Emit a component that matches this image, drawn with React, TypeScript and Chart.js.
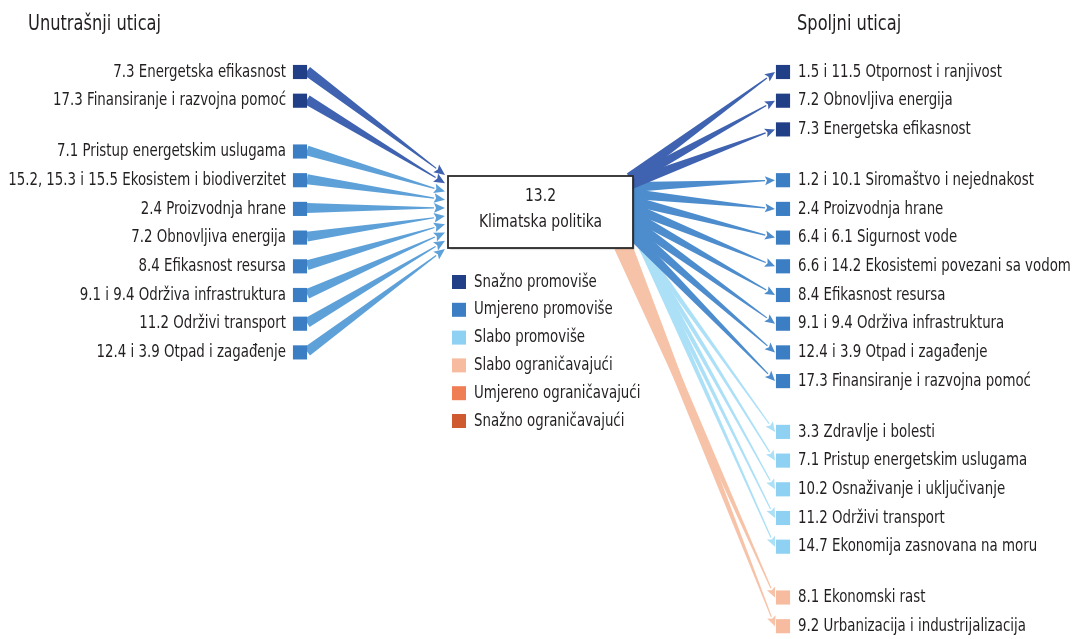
import React, { useEffect, useRef } from "react";
import { Chart, registerables } from "chart.js";

Chart.register(...registerables);

// ---------- DATA ----------
const titles = ["Unutrašnji uticaj", "Spoljni uticaj"];
const centerLines = ["13.2", "Klimatska politika"];

const leftLabels = [
  "7.3 Energetska efikasnost",
  "17.3 Finansiranje i razvojna pomoć",
  "7.1 Pristup energetskim uslugama",
  "15.2, 15.3 i 15.5 Ekosistem i biodiverzitet",
  "2.4 Proizvodnja hrane",
  "7.2 Obnovljiva energija",
  "8.4 Efikasnost resursa",
  "9.1 i 9.4 Održiva infrastruktura",
  "11.2 Održivi transport",
  "12.4 i 3.9 Otpad i zagađenje",
];
// 3 = snažno, 2 = umjereno, 1 = slabo promoviše; -1/-2/-3 = ograničavajući
const leftStrength = [3, 3, 2, 2, 2, 2, 2, 2, 2, 2];

const rightLabels = [
  "1.5 i 11.5 Otpornost i ranjivost",
  "7.2 Obnovljiva energija",
  "7.3 Energetska efikasnost",
  "1.2 i 10.1 Siromaštvo i nejednakost",
  "2.4 Proizvodnja hrane",
  "6.4 i 6.1 Sigurnost vode",
  "6.6 i 14.2 Ekosistemi povezani sa vodom",
  "8.4 Efikasnost resursa",
  "9.1 i 9.4 Održiva infrastruktura",
  "12.4 i 3.9 Otpad i zagađenje",
  "17.3 Finansiranje i razvojna pomoć",
  "3.3 Zdravlje i bolesti",
  "7.1 Pristup energetskim uslugama",
  "10.2 Osnaživanje i uključivanje",
  "11.2 Održivi transport",
  "14.7 Ekonomija zasnovana na moru",
  "8.1 Ekonomski rast",
  "9.2 Urbanizacija i industrijalizacija",
];
const rightStrength = [3, 3, 3, 2, 2, 2, 2, 2, 2, 2, 2, 1, 1, 1, 1, 1, -1, -1];

const legendLabels = [
  "Snažno promoviše",
  "Umjereno promoviše",
  "Slabo promoviše",
  "Slabo ograničavajući",
  "Umjereno ograničavajući",
  "Snažno ograničavajući",
];
const legendLevels = [3, 2, 1, -1, -2, -3];

// ---------- STYLE / LAYOUT ----------
const W = 1072;
const H = 639;
const NODE_COLORS: Record<number, string> = {
  3: "#213f87",
  2: "#3b7ec4",
  1: "#8fd1f2",
  "-1": "#f7bc9f",
  "-2": "#ef7e55",
  "-3": "#cf5a2f",
};
const LEFT_ARROW: Record<number, string> = {
  3: "#3f63b0",
  2: "#5ea1d9",
  1: "#a8dcf5",
  "-1": "#f7c3a8",
};
const RIGHT_ARROW: Record<number, string> = {
  3: "#3f63b0",
  2: "#4d8dcd",
  1: "#ace0f7",
  "-1": "#f7c3a8",
};
// source band on the box's right edge, per strength: [x offset from right edge, y start, y step, start width]
const RIGHT_SRC: Record<number, [number, number, number, number]> = {
  3: [-3, 178, 3, 11],
  2: [0, 187, 7, 10],
  1: [3, 238, 2.5, 6],
  "-1": [-13, 247, 1, 12],
};
const TEXT = "#231f20";
const FONT = "'Liberation Sans Narrow', 'DejaVu Sans Condensed', 'Arial Narrow', sans-serif";

const ROW0 = 72;
const ROW_H = 28.7;
const GROUP_GAP = 0.77;
const LEFT_X = 300;
const RIGHT_X = 783;
const BOX = { x0: 448, y0: 176, x1: 633, y1: 248 };

function rowValues(strength: number[]) {
  let g = 0;
  return strength.map((s, i) => {
    if (i > 0 && s !== strength[i - 1]) g++;
    return ROW0 + ROW_H * (i + GROUP_GAP * g);
  });
}
const leftY = rowValues(leftStrength);
const rightY = rowValues(rightStrength);

function drawText(ctx: CanvasRenderingContext2D, text: string, x: number, y: number, size: number, align: CanvasTextAlign, sx: number) {
  ctx.save();
  ctx.font = `${size}px ${FONT}`;
  ctx.fillStyle = TEXT;
  ctx.textAlign = align;
  ctx.textBaseline = "middle";
  ctx.translate(x, y);
  ctx.scale(sx, 1);
  ctx.fillText(text, 0, 0);
  ctx.restore();
}

function drawArrow(
  ctx: CanvasRenderingContext2D,
  sx: number, sy: number, tx: number, ty: number,
  w0: number, w1: number, headLen: number, headHalf: number, color: string
) {
  const dx = tx - sx, dy = ty - sy;
  const len = Math.hypot(dx, dy);
  const ux = dx / len, uy = dy / len;
  const nx = -uy, ny = ux;
  const bx = tx - ux * headLen, by = ty - uy * headLen;
  ctx.fillStyle = color;
  ctx.beginPath();
  ctx.moveTo(sx + nx * w0 / 2, sy + ny * w0 / 2);
  ctx.lineTo(bx + nx * w1 / 2, by + ny * w1 / 2);
  ctx.lineTo(bx - nx * w1 / 2, by - ny * w1 / 2);
  ctx.lineTo(sx - nx * w0 / 2, sy - ny * w0 / 2);
  ctx.closePath();
  ctx.fill();
  ctx.beginPath();
  ctx.moveTo(tx, ty);
  ctx.lineTo(bx + nx * headHalf, by + ny * headHalf);
  ctx.lineTo(bx + ux * 2, by + uy * 2);
  ctx.lineTo(bx - nx * headHalf, by - ny * headHalf);
  ctx.closePath();
  ctx.fill();
}

const networkPlugin = {
  id: "network",
  beforeDatasetsDraw(chart: any) {
    const ctx: CanvasRenderingContext2D = chart.ctx;
    const xs = chart.scales.x;
    const ys = chart.scales.y;
    const px = (v: number) => xs.getPixelForValue(v);
    const py = (v: number) => ys.getPixelForValue(v);
    ctx.save();
    // right arrows (drawn first, behind box)
    const nR = rightLabels.length;
    const rank: number[] = [];
    const seen: Record<number, number> = {};
    rightStrength.forEach((s) => { seen[s] = (seen[s] ?? -1) + 1; rank.push(seen[s]); });
    for (let k = nR - 1; k >= 0; k--) {
      const s = rightStrength[k];
      const [ox, y0, dy, w0] = RIGHT_SRC[s];
      const srcX = BOX.x1 + ox + (s < 0 ? rank[k] * 7 : s === 1 ? rank[k] * 1.5 : 0);
      const srcY = y0 + rank[k] * dy;
      drawArrow(ctx, px(srcX), py(srcY), px(RIGHT_X - 8), py(rightY[k]),
        w0, 1.2, 10, 4.5, RIGHT_ARROW[s]);
    }
    // left arrows
    const nL = leftLabels.length;
    for (let k = 0; k < nL; k++) {
      const s = leftStrength[k];
      const tipY = BOX.y0 - 1 + (k * (BOX.y1 - BOX.y0 + 2)) / (nL - 1);
      drawArrow(ctx, px(LEFT_X + 7), py(leftY[k] - 1), px(BOX.x0 - 3), py(tipY),
        10, 1.2, 11, 4.8, LEFT_ARROW[s]);
    }
    // center box
    const bx0 = px(BOX.x0), by0 = py(BOX.y0), bx1 = px(BOX.x1), by1 = py(BOX.y1);
    ctx.save();
    ctx.shadowColor = "rgba(0,0,0,0.35)";
    ctx.shadowOffsetX = 1.5;
    ctx.shadowOffsetY = 1.5;
    ctx.shadowBlur = 1.5;
    ctx.fillStyle = "#ffffff";
    ctx.fillRect(bx0, by0, bx1 - bx0, by1 - by0);
    ctx.restore();
    ctx.strokeStyle = "#2b2b2b";
    ctx.lineWidth = 1.8;
    ctx.strokeRect(bx0, by0, bx1 - bx0, by1 - by0);
    const cx = (bx0 + bx1) / 2;
    drawText(ctx, centerLines[0], cx, py(196), 18, "center", 0.86);
    drawText(ctx, centerLines[1], cx, py(222), 18, "center", 0.86);
    ctx.restore();
  },
  afterDatasetsDraw(chart: any) {
    const ctx: CanvasRenderingContext2D = chart.ctx;
    const xs = chart.scales.x;
    const ys = chart.scales.y;
    const px = (v: number) => xs.getPixelForValue(v);
    const py = (v: number) => ys.getPixelForValue(v);
    drawText(ctx, titles[0], px(28), py(25), 21, "left", 0.86);
    drawText(ctx, titles[1], px(797), py(25), 21, "left", 0.86);
    leftLabels.forEach((t, i) => drawText(ctx, t, px(LEFT_X - 14), py(leftY[i]), 18, "right", 0.825));
    rightLabels.forEach((t, i) => drawText(ctx, t, px(RIGHT_X + 15), py(rightY[i]), 18, "left", 0.825));
    // legend
    legendLabels.forEach((t, i) => {
      const y = py(282 + i * 27.8);
      ctx.fillStyle = NODE_COLORS[legendLevels[i]];
      ctx.fillRect(px(452), y - 7, 14, 14);
      drawText(ctx, t, px(474), y, 18, "left", 0.825);
    });
  },
};

export default function App() {
  const ref = useRef<HTMLCanvasElement>(null);
  useEffect(() => {
    if (!ref.current) return;
    const chart = new Chart(ref.current, {
      type: "scatter",
      data: {
        datasets: [
          {
            label: "left",
            data: leftY.map((y) => ({ x: LEFT_X, y })),
            backgroundColor: leftStrength.map((s) => NODE_COLORS[s]),
            pointStyle: "rect",
            pointRadius: 10,
            pointHoverRadius: 10,
            borderWidth: 0,
          },
          {
            label: "right",
            data: rightY.map((y) => ({ x: RIGHT_X, y })),
            backgroundColor: rightStrength.map((s) => NODE_COLORS[s]),
            pointStyle: "rect",
            pointRadius: 10,
            pointHoverRadius: 10,
            borderWidth: 0,
          },
        ],
      },
      options: {
        responsive: false,
        maintainAspectRatio: false,
        animation: false,
        events: [],
        layout: { padding: 0, autoPadding: false },
        plugins: { legend: { display: false }, tooltip: { enabled: false } },
        scales: {
          x: { type: "linear", display: false, min: 0, max: W },
          y: { type: "linear", display: false, min: 0, max: H, reverse: true },
        },
      },
      plugins: [networkPlugin],
    } as any);
    return () => chart.destroy();
  }, []);
  return (
    <div style={{ position: "absolute", left: 0, top: 0, width: W, height: H, background: "#fff" }}>
      <canvas ref={ref} width={W} height={H} style={{ display: "block" }} />
    </div>
  );
}
